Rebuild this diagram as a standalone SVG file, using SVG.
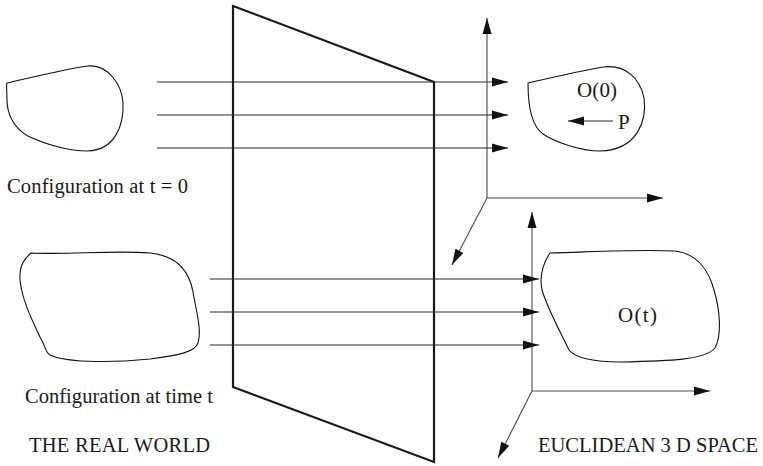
<svg xmlns="http://www.w3.org/2000/svg" width="763" height="466" viewBox="0 0 763 466">
  <style>
    .blob { fill: none; stroke: #111; stroke-width: 1.1; }
    .plane { fill: none; stroke: #1a1a1a; stroke-width: 2.2; stroke-linejoin: miter; }
    .ray { stroke: #2a2a2a; stroke-width: 1.1; fill: none; }
    .axis { stroke: #4a4a4a; stroke-width: 1.1; fill: none; }
    .lbl { font-family: "Liberation Serif", "Times New Roman", serif; font-size: 20.5px; fill: #1a1a1a; }
    .big { font-family: "Liberation Serif", "Times New Roman", serif; font-size: 21px; fill: #1a1a1a; }
  </style>
  <defs>
    <marker id="ah" markerUnits="userSpaceOnUse" markerWidth="17" markerHeight="10" refX="16" refY="4.5" orient="auto" overflow="visible">
      <path d="M0,0 L16,4.5 L0,9 Z" fill="#111"/>
    </marker>
  </defs>
  <rect width="763" height="466" fill="#fff"/>

  <g id="plane">
    <polygon class="plane" points="233,6 434,82 434,462 233,387"/>
  </g>

  <g id="real-config-0">
    <path class="blob" d="M7,83 C30,78 60,70 88,66 C108,64 122,85 123,103 C124,125 115,150 88,151 C65,151 40,142 28,136 C15,129 7,115 7,100 C7,92 6,86 7,83 Z"/>
    <text class="lbl" x="7" y="193" textLength="181" lengthAdjust="spacing">Configuration at t = 0</text>
  </g>

  <g id="real-config-t">
    <path class="blob" d="M31,253 C70,255 110,250 150,253 C180,256 190,275 193,292 C196,310 202,330 198,343 C195,352 180,355 150,359 C120,362 70,364 50,355 C45,352 46,347 40,337 C32,320 22,300 20,280 C19,265 25,258 31,253 Z"/>
    <text class="lbl" x="25" y="403" textLength="188" lengthAdjust="spacing">Configuration at time t</text>
  </g>

  <g id="real-world-label">
    <text class="lbl" x="29" y="452" textLength="181" lengthAdjust="spacing">THE REAL WORLD</text>
  </g>

  <g id="euclid-axes-0">
    <line class="axis" x1="487" y1="198" x2="487" y2="18" marker-end="url(#ah)"/>
    <line class="axis" x1="487" y1="198" x2="663" y2="198" marker-end="url(#ah)"/>
    <line class="axis" x1="487" y1="198" x2="452" y2="265" marker-end="url(#ah)"/>
  </g>

  <g id="euclid-axes-t">
    <line class="axis" x1="532" y1="391" x2="532" y2="212" marker-end="url(#ah)"/>
    <line class="axis" x1="532" y1="391" x2="710" y2="391" marker-end="url(#ah)"/>
    <line class="axis" x1="532" y1="391" x2="498" y2="458" marker-end="url(#ah)"/>
  </g>

  <g id="euclid-O0">
    <path class="blob" d="M528,83 C550,78 580,71 603,67 C625,64 640,78 644,98 C647,120 638,150 600,151 C580,151 555,142 543,134 C530,125 528,100 528,83 Z"/>
    <text class="big" x="577" y="97" textLength="40" lengthAdjust="spacing">O(0)</text>
    <line class="ray" x1="613" y1="121" x2="568" y2="121" marker-end="url(#ah)"/>
    <text class="big" x="618" y="129">P</text>
  </g>

  <g id="euclid-Ot">
    <path class="blob" d="M550,253 C590,252 640,249 675,251 C700,254 710,275 714,290 C720,310 722,335 715,348 C705,360 670,361 620,362 C595,362 575,358 569,350 C562,335 548,310 542,290 C539,275 544,262 550,253 Z"/>
    <text class="big" x="618" y="322" textLength="39" lengthAdjust="spacing">O(t)</text>
  </g>

  <g id="euclid-label">
    <text class="lbl" x="538" y="452" textLength="220" lengthAdjust="spacing">EUCLIDEAN 3 D SPACE</text>
  </g>

  <g id="connectors">
    <line class="ray" x1="157" y1="82" x2="508" y2="82" marker-end="url(#ah)"/>
    <line class="ray" x1="157" y1="115" x2="508" y2="115" marker-end="url(#ah)"/>
    <line class="ray" x1="157" y1="148" x2="508" y2="148" marker-end="url(#ah)"/>
    <line class="ray" x1="210" y1="279" x2="539" y2="279" marker-end="url(#ah)"/>
    <line class="ray" x1="210" y1="312" x2="539" y2="312" marker-end="url(#ah)"/>
    <line class="ray" x1="210" y1="345" x2="539" y2="345" marker-end="url(#ah)"/>
  </g>
</svg>
